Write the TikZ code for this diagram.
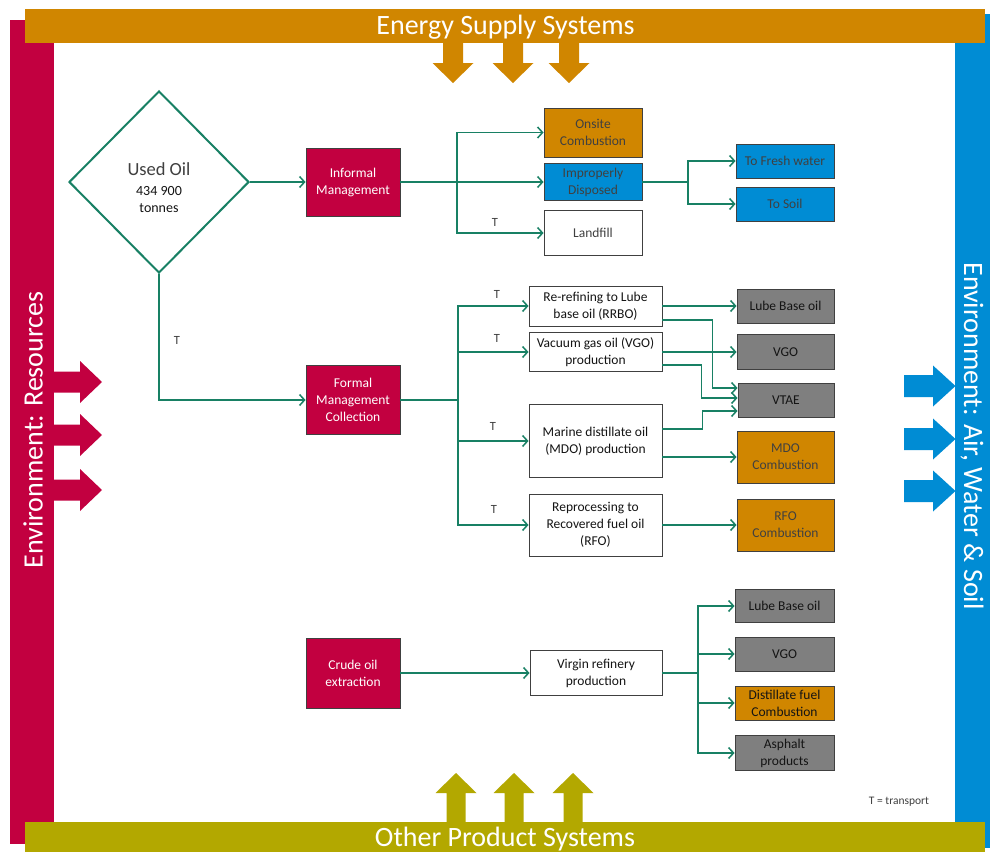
\documentclass[tikz,border=0pt]{standalone}
\usepackage{fontspec}
\setmainfont{Carlito}
\usetikzlibrary{arrows.meta,shapes.geometric,calc}
\definecolor{cOrange}{RGB}{208,134,0}
\definecolor{cRed}{RGB}{194,0,64}
\definecolor{cBlue}{RGB}{0,140,212}
\definecolor{cOlive}{RGB}{179,168,0}
\definecolor{cGray}{RGB}{127,127,127}
\definecolor{cGreen}{RGB}{24,128,100}
\definecolor{cLine}{RGB}{64,64,64}
\definecolor{cText}{RGB}{64,64,64}
\definecolor{cDark}{RGB}{20,20,20}
\begin{document}
\begin{tikzpicture}[x=1pt,y=-1pt,
  box/.style={draw=cLine, line width=0.9pt, align=center, inner sep=1pt,
    font=\fontsize{13.5}{17}\selectfont, text=cDark},
  redbox/.style={box, fill=cRed, text=white},
  orbox/.style={box, fill=cOrange, text=cText},
  bluebox/.style={box, fill=cBlue, text=cText},
  graybox/.style={box, fill=cGray, text=cDark},
  conn/.style={draw=cGreen, line width=1.5pt,
    -{Straight Barb[length=5pt,width=11pt,line width=1.5pt]}},
  plain/.style={draw=cGreen, line width=1.5pt},
  tlab/.style={font=\fontsize{12.5}{14}\selectfont, text=cText, inner sep=0pt},
  bartext/.style={font=\fontsize{28}{30}\selectfont, text=white, inner sep=0pt},
  sidetext/.style={font=\fontsize{28}{30}\selectfont, text=white, inner sep=0pt}]

\useasboundingbox (0,0) rectangle (991,854);
\fill[white] (0,0) rectangle (991,854);

% frame bars
\fill[cRed] (10,20) rectangle (54,844);
\fill[cBlue] (955,14) rectangle (990,848);
\fill[cOrange] (25,9) rectangle (985,43);
\fill[cOlive] (25,822) rectangle (985,852);

\node[bartext] (ess) at (505.5,27) {Energy Supply Systems};
\node[bartext] (ops) at (505,839) {Other Product Systems};
\node[sidetext, rotate=90] (envres) at (33,430) {Environment: Resources};
\node[sidetext, rotate=-90] (envair) at (972,436) {Environment: Air, Water \& Soil};

% big arrows
\foreach \c in {453,513,569}
  \fill[cOrange] (\c-10,42) -- (\c-10,63) -- (\c-20.5,63) -- (\c,83) -- (\c+20.5,63) -- (\c+10,63) -- (\c+10,42) -- cycle;
\foreach \c in {456,514,573}
  \fill[cOlive] (\c-9.5,823) -- (\c-9.5,793) -- (\c-20.5,793) -- (\c,773) -- (\c+20.5,793) -- (\c+9.5,793) -- (\c+9.5,823) -- cycle;
\foreach \c in {382,435,490}
  \fill[cRed] (53,\c-10.5) -- (80,\c-10.5) -- (80,\c-21) -- (102,\c) -- (80,\c+21) -- (80,\c+10.5) -- (53,\c+10.5) -- cycle;
\foreach \c in {386,439,491}
  \fill[cBlue] (904,\c-11) -- (933,\c-11) -- (933,\c-20.5) -- (955.5,\c) -- (933,\c+20.5) -- (933,\c+11) -- (904,\c+11) -- cycle;

% diamond
\node[diamond, draw=cGreen, line width=2pt, minimum width=180pt, minimum height=182pt, inner sep=0pt] (dia) at (159,182) {};
\node[align=center, inner sep=0pt, font=\fontsize{14}{17}\selectfont, text=cDark] (diat) at (159,188)
  {{\color{cText}\fontsize{18.5}{20}\selectfont Used Oil}\\[3pt]434 900\\tonnes};

% informal management
\node[redbox, minimum width=94pt, minimum height=68pt] (inf) at (353,182) {Informal\\Management};
\node[orbox, minimum width=98pt, minimum height=49pt] (onsite) at (593,132.5) {Onsite\\Combustion};
\node[bluebox, minimum width=98pt, minimum height=37pt] (imp) at (593,182) {Improperly\\Disposed};
\node[box, text=cText, minimum width=98pt, minimum height=45pt] (land) at (593,233) {Landfill};
\node[bluebox, minimum width=98pt, minimum height=34pt] (fresh) at (785,161) {To Fresh water};
\node[bluebox, minimum width=98pt, minimum height=34pt] (soil) at (785,204) {To Soil};

% formal management
\node[redbox, minimum width=94pt, minimum height=69pt] (formal) at (353,400) {Formal\\Management\\Collection};
\node[box, minimum width=133pt, minimum height=40pt] (rrbo) at (595.5,306) {Re-refining to Lube\\base oil (RRBO)};
\node[box, minimum width=133pt, minimum height=39pt] (vgop) at (595.5,352) {Vacuum gas oil (VGO)\\production};
\node[box, minimum width=133pt, minimum height=73pt] (mdop) at (595.5,441) {Marine distillate oil\\(MDO) production};
\node[box, minimum width=133pt, minimum height=62pt] (rfop) at (595.5,525) {Reprocessing to\\Recovered fuel oil\\(RFO)};
\node[graybox, minimum width=97pt, minimum height=34pt] (lube1) at (785.5,306) {Lube Base oil};
\node[graybox, minimum width=97pt, minimum height=35pt] (vgo1) at (785.5,352) {VGO};
\node[graybox, minimum width=96pt, minimum height=34pt] (vtae) at (786,400) {VTAE};
\node[orbox, minimum width=97pt, minimum height=52pt] (mdoc) at (785.5,457) {MDO\\Combustion};
\node[orbox, minimum width=97pt, minimum height=52pt] (rfoc) at (785.5,525) {RFO\\Combustion};

% crude oil
\node[redbox, minimum width=94pt, minimum height=70pt] (crude) at (353,673) {Crude oil\\extraction};
\node[box, minimum width=132pt, minimum height=45pt] (virgin) at (596,673) {Virgin refinery\\production};
\node[graybox, minimum width=99pt, minimum height=33pt] (lube2) at (784.5,606) {Lube Base oil};
\node[graybox, minimum width=99pt, minimum height=34pt] (vgo2) at (784.5,654) {VGO};
\node[orbox, minimum width=99pt, minimum height=34pt, text=cDark] (dist) at (784.5,703) {Distillate fuel\\Combustion};
\node[graybox, minimum width=99pt, minimum height=35pt] (asph) at (784.5,753) {Asphalt\\products};

% connectors: informal
\draw[conn] (dia.east) -- (inf.west);
\coordinate (j1) at (457,182);
\draw[conn] (inf.east) -- (imp.west);
\draw[conn] (j1) |- (onsite.west);
\draw[conn] (j1) |- (land.west);
\coordinate (j3) at (688,182);
\draw[plain] (imp.east) -- (j3);
\draw[conn] (j3) |- (fresh.west);
\draw[conn] (j3) |- (soil.west);

% connectors: formal
\draw[conn] (dia.south) |- (formal.west);
\coordinate (j2) at (458,400);
\draw[plain] (formal.east) -- (j2);
\draw[conn] (j2) |- (rrbo.west);
\draw[conn] (j2) |- (vgop.west);
\draw[conn] (j2) |- (mdop.west);
\draw[conn] (j2) |- (rfop.west);
\draw[conn] (rrbo.east) -- (lube1.west);
\draw[conn] ([yshift=-14pt]rrbo.east) -- ++(50,0) |- ([yshift=12pt]vtae.west);
\draw[conn] (vgop.east) -- (vgo1.west);
\draw[conn] ([yshift=-13pt]vgop.east) -- ++(39,0) |- ([yshift=2pt]vtae.west);
\draw[conn] ([yshift=12pt]mdop.east) -- ++(40,0) |- ([yshift=-11pt]vtae.west);
\draw[conn] ([yshift=-16pt]mdop.east) -- (mdoc.west);
\draw[conn] (rfop.east) -- (rfoc.west);

% connectors: crude
\draw[conn] (crude.east) -- (virgin.west);
\coordinate (j4) at (698,673);
\draw[plain] (virgin.east) -- (j4);
\draw[conn] (j4) |- (lube2.west);
\draw[conn] (j4) |- (vgo2.west);
\draw[conn] (j4) |- (dist.west);
\draw[conn] (j4) |- (asph.west);

% transport labels
\node[tlab] (t0) at (177,340) {T};
\node[tlab] (t1) at (495,222) {T};
\node[tlab] (t2) at (497,294) {T};
\node[tlab] (t3) at (497,338) {T};
\node[tlab] (t4) at (493,426) {T};
\node[tlab] (t5) at (494,509) {T};
\node[tlab, font=\fontsize{11.5}{13}\selectfont] (tleg) at (899,802) {T = transport};
\end{tikzpicture}
\end{document}
